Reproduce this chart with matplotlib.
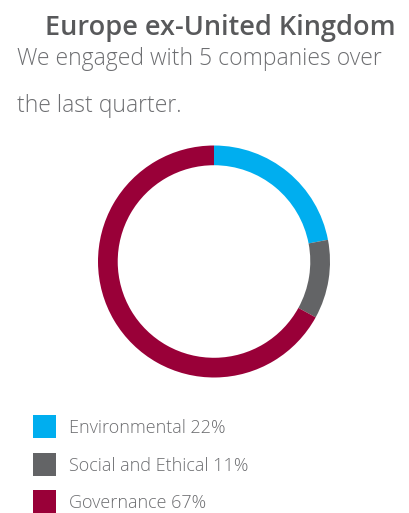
import matplotlib
matplotlib.use('Agg')
import matplotlib.pyplot as plt
from matplotlib.patches import Rectangle

# ----------------------------------------------------------
# data
# ----------------------------------------------------------
categories = ['Environmental', 'Social and Ethical', 'Governance']
shares = [22, 11, 67]
colors = ['#00aeef', '#636466', '#990038']

title = 'Europe ex-United Kingdom'
subtitle = ['We engaged with 5 companies over', 'the last quarter.']

# ----------------------------------------------------------
# figure
# ----------------------------------------------------------
W, H = 409, 513
fig = plt.figure(figsize=(W / 100, H / 100), dpi=100)
fig.patch.set_facecolor('white')

def fx(px):
	return px / W

def fy(py):
	return 1 - py / H

fig.text(fx(45), fy(35), title, fontsize=19.5, fontweight='semibold',
		 color='#58595b', family='Open Sans', va='baseline', ha='left')
fig.text(fx(17), fy(65), subtitle[0], fontsize=16.5, fontweight='light',
		 color='#6d6e71', family='Open Sans', va='baseline', ha='left')
fig.text(fx(17), fy(112), subtitle[1], fontsize=16.5, fontweight='light',
		 color='#6d6e71', family='Open Sans', va='baseline', ha='left')

# donut
cx, cy, r = 214, 261.5, 116
ax = fig.add_axes([fx(cx - r), fy(cy + r), 2 * r / W, 2 * r / H])
ax.pie(shares, colors=colors, startangle=90, counterclock=False,
	   radius=1, wedgeprops=dict(width=0.17, linewidth=0))
ax.set_xlim(-1, 1)
ax.set_ylim(-1, 1)
ax.axis('off')

# legend
base_y = [433, 471, 508]
for i in range(len(categories)):
	top = base_y[i] - 18
	fig.patches.append(Rectangle((fx(33), fy(top + 23)), 23 / W, 23 / H,
								 transform=fig.transFigure, color=colors[i], lw=0))
	fig.text(fx(69), fy(base_y[i]), f'{categories[i]} {shares[i]}%', fontsize=13,
			 fontweight='light', color='#6d6e71', family='Open Sans', va='baseline')

plt.savefig('out.png', dpi=100)
